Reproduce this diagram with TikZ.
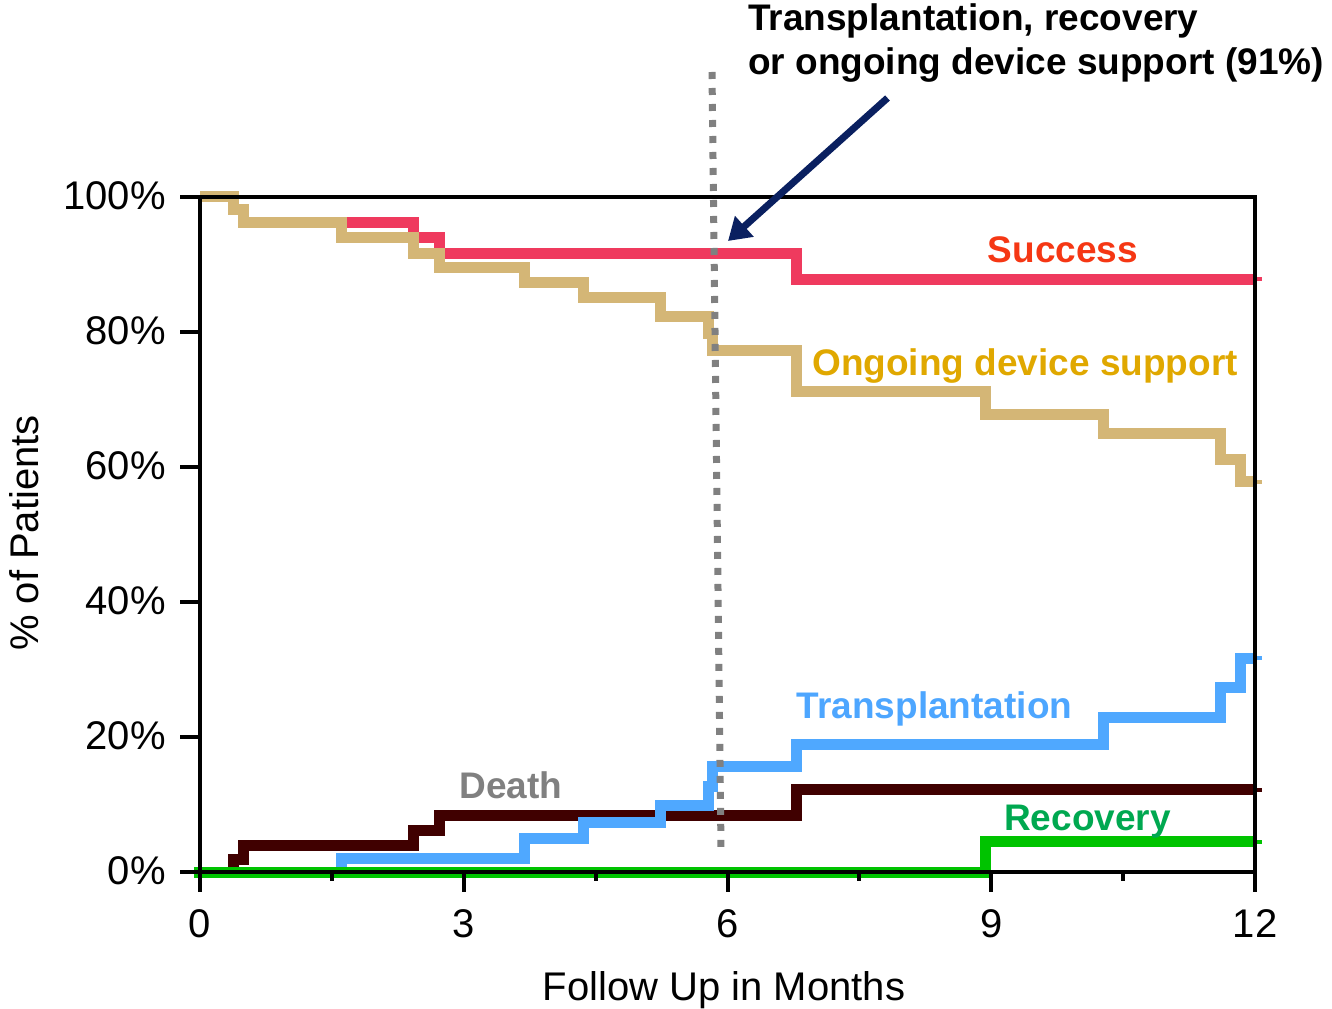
\documentclass[tikz,border=0pt]{standalone}
\usepackage{fontspec}
\setmainfont{Liberation Sans}
\usetikzlibrary{arrows.meta}
\definecolor{succline}{RGB}{239,58,94}
\definecolor{ongoline}{RGB}{212,182,118}
\definecolor{deathline}{RGB}{64,0,0}
\definecolor{txline}{RGB}{79,168,255}
\definecolor{recline}{RGB}{0,195,0}
\definecolor{succtext}{RGB}{245,55,20}
\definecolor{ongotext}{RGB}{224,168,0}
\definecolor{txtext}{RGB}{77,166,255}
\definecolor{rectext}{RGB}{0,168,80}
\definecolor{arrownavy}{RGB}{10,32,96}

\begin{document}
\begin{tikzpicture}[x=0.75pt,y=0.75pt,
		curve/.style={line width=8.25pt},
		axisline/.style={line width=3pt, black},
		curvelabel/.style={font=\fontsize{27.75}{33}\selectfont\bfseries, inner sep=0pt, anchor=base},
		ticklabel/.style={font=\fontsize{30}{36}\selectfont, inner sep=0pt}]
		\useasboundingbox (0,0) rectangle (1332,1008);
		\begin{scope}[shift={(200,136)}, x=65.94pt, y=5.0625pt]
			\begin{scope}
				\clip (-1,-3) rectangle (12,103);
				\draw[curve, succline] (0,100) -| (0.38,98.1) -| (0.5,96.2) -| (2.43,94.0) -| (2.72,91.7) -| (6.79,87.8) -- (12.1,87.8);
				\draw[curve, ongoline] (0,100) -| (0.38,98.1) -| (0.5,96.2) -| (1.61,94.0) -| (2.43,91.7) -| (2.72,89.5) -| (3.69,87.3) -| (4.36,85.1) -| (5.24,82.3) -| (5.78,79.8) -| (5.83,77.3) -| (6.79,71.2) -| (8.93,67.8) -| (10.28,65.0) -| (11.61,61.1) -| (11.84,57.8) -- (12.1,57.8);
				\draw[curve, deathline] (0.38,0) -- (0.38,1.9) -| (0.5,3.9) -| (2.43,6.1) -| (2.72,8.4) -| (6.79,12.2) -- (12.1,12.2);
				\draw[curve, txline] (1.61,0) -- (1.61,2.0) -| (3.69,5.0) -| (4.36,7.3) -| (5.24,9.9) -| (5.78,12.6) -| (5.83,15.6) -| (6.79,18.9) -| (10.28,22.9) -| (11.61,27.3) -| (11.84,31.7) -- (12.1,31.7);
				\draw[curve, recline] (-0.07,0) -| (8.93,4.5) -- (12.1,4.5);
			\end{scope}
			% end stubs past the frame
			\draw[line width=3pt, succline] (12,87.8) -- ++(5pt,0);
			\draw[line width=3pt, ongoline] (12,57.8) -- ++(5pt,0);
			\draw[line width=3pt, txline] (12,31.7) -- ++(5pt,0);
			\draw[line width=3pt, deathline] (12,12.2) -- ++(5pt,0);
			\draw[line width=3pt, recline] (12,4.5) -- ++(5pt,0);
			% frame and ticks
			\draw[axisline] (0,0) rectangle (12,100);
			\draw[axisline] (0,0) -- (0,-2.96);
			\foreach \p in {0,20,...,100} {
				\draw[axisline] (0,\p) -- ++(-15pt,0);
				\node[ticklabel, anchor=east] (ylab\p) at ([xshift=-25.5pt,yshift=1pt]0,\p) {\p\%};
			}
			\foreach \m in {3,6,9,12}
				\draw[axisline] (\m,0) -- ++(0,-15pt);
			\foreach \m in {1.5,4.5,7.5,10.5}
				\draw[axisline] (\m,0) -- ++(0,-6.75pt);
			\foreach \m in {0,3,6,9,12}
				\node[ticklabel, anchor=base] (xlab\m) at ([yshift=-48.75pt]\m,0) {\m};
		\end{scope}
		\node[ticklabel, anchor=base] (xtitle) at (724,8) {Follow Up in Months};
		\node[ticklabel, anchor=base, rotate=90] (ytitle) at (38,475) {\% of Patients};
		% curve labels
		\node[curvelabel, succtext] (succ) at (1063,745) {Success};
		\node[curvelabel, ongotext] (ongo) at (1025,632) {Ongoing device support};
		\node[curvelabel, txtext] (tx) at (934.5,290) {Transplantation};
		\node[curvelabel, gray] (death) at (511,210) {Death};
		\node[curvelabel, rectext] (rec) at (1087.5,178) {Recovery};
		% six month marker
		\node[curvelabel, anchor=base west] (note1) at (748,977) {Transplantation, recovery};
		\node[curvelabel, anchor=base west] (note2) at (748,933) {or ongoing device support (91\%)};
		\coordinate (dtop) at (712,936);
		\coordinate (dbot) at (721,160);
		\draw[gray, line width=5.25pt, dash pattern=on 5.25pt off 6.75pt] (dtop) -- (dbot);
		\coordinate (arrtail) at (887.5,910);
		\coordinate (arrtip) at (728,767);
		\draw[arrownavy, line width=5.25pt, -{Triangle[length=16.5pt,width=20pt]}] (arrtail) -- (arrtip);
\end{tikzpicture}
\end{document}
